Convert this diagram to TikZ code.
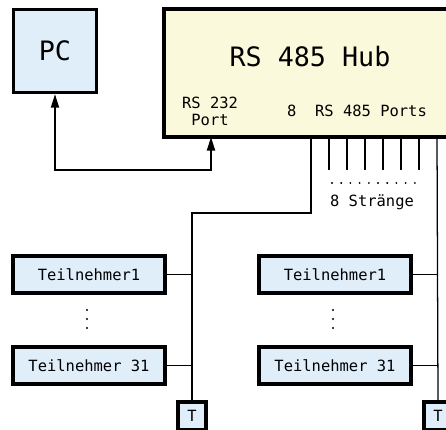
\documentclass[tikz,border=0pt]{standalone}
\usepackage{fontspec}
\setmonofont{DejaVu Sans Mono}
\usepackage{xcolor}
\usepackage{tikz}
\usetikzlibrary{arrows.meta}

\definecolor{boxblue}{HTML}{E0EEFA}
\definecolor{hubyellow}{HTML}{FBF9DC}

\begin{document}
\begin{tikzpicture}[
    x=0.025cm,
    y=0.025cm,
    every node/.style={
        inner sep=0pt,
        font=\ttfamily\fontsize{11}{12}\selectfont
    },
    box/.style={draw, line width=2.3pt, fill=boxblue},
    teil/.style={box, minimum width=3.8cm, minimum height=0.925cm},
    term/.style={box, minimum size=0.7cm},
    big/.style={font=\ttfamily\fontsize{19}{22}\selectfont},
    wire/.style={line width=0.9pt},
    sig/.style={line width=1.4pt,
        {Triangle[length=0.34cm,width=0.2cm]}-{Triangle[length=0.34cm,width=0.2cm]}}
]
\clip (0,0) rectangle (446,429);

% PC und Hub
\node[box, minimum size=2.075cm] (pc) at (55,378) {};
\node[big] (pclabel) at (pc) {PC};
\node[box, fill=hubyellow, minimum width=7.65cm, minimum height=3.2cm] (hub) at (317,356) {};
\node[big] (hubname) at (310,372) {RS 485 Hub};
\node[align=center] (rs232) at (210,317.5) {RS 232\\Port};
\node (ports) at (357,318) {8\ \ RS 485 Ports};

\coordinate (p232) at (211,292);
\draw[sig] (p232) -- ++(0,-33) -| (pc.south);

% Ports
\foreach \i in {1,...,8}
    \coordinate (p\i) at (293+18*\i,292);
\foreach \i in {2,...,7}
    \draw[wire] (p\i) -- ++(0,-33);
\foreach \i in {0,...,9}
    \fill (332+9.2*\i,246) circle (0.75pt);
\node (straenge) at (372,227) {8 Stränge};

% Teilnehmer
\node[teil] (l1) at (89,154.5) {Teilnehmer1};
\node[teil] (l31) at (89,63.5) {Teilnehmer 31};
\node[teil] (r1) at (335,154.5) {Teilnehmer1};
\node[teil] (r31) at (335,63.5) {Teilnehmer 31};
\node[term] (tl) at (192,13) {T};
\node[term] (tr) at (438,13) {T};

\foreach \x in {87,333}
    \foreach \y in {101,110,119}
        \fill (\x,\y) circle (0.75pt);

% Busse
\draw[wire] (p1) -- ++(0,-76) -| (tl.north);
\draw[wire] (p8) -- (tr.north);
\draw[wire] (l1.east) -- (l1.east -| tl.north);
\draw[wire] (l31.east) -- (l31.east -| tl.north);
\draw[wire] (r1.east) -- (r1.east -| tr.north);
\draw[wire] (r31.east) -- (r31.east -| tr.north);
\end{tikzpicture}
\end{document}
